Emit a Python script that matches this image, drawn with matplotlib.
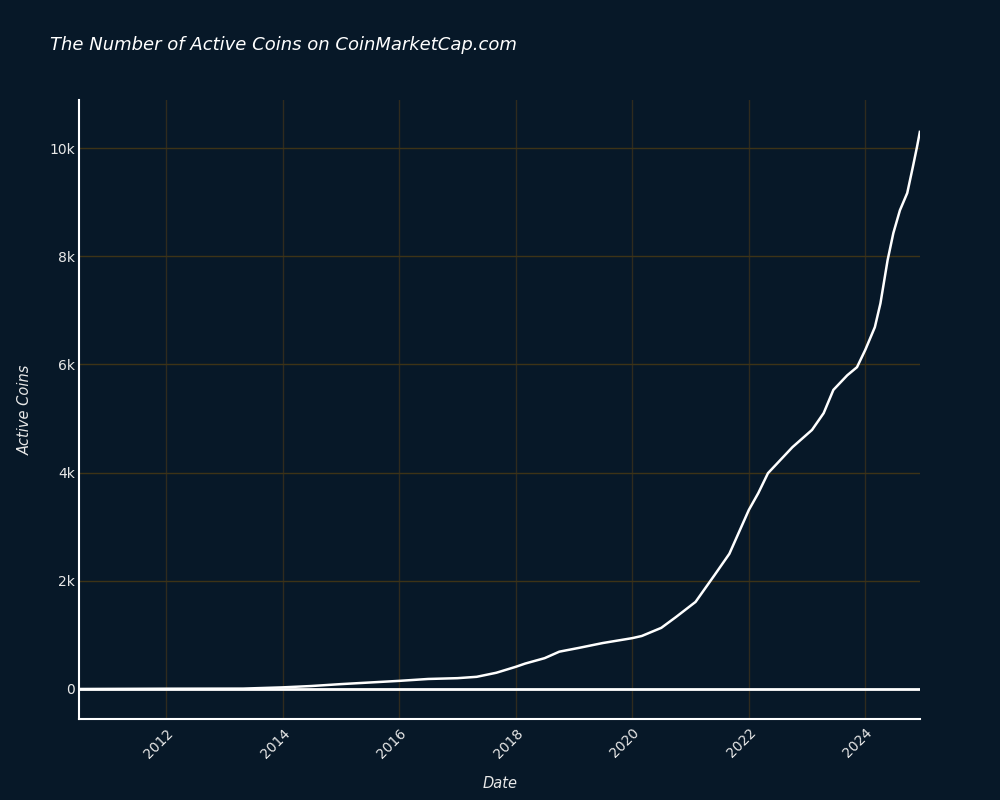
import matplotlib
matplotlib.use('Agg')
import matplotlib.pyplot as plt
import matplotlib.dates as mdates
import matplotlib.ticker as mticker
import pandas as pd

# data
dates = [
    '2010-07-05', '2012-01-01', '2013-04-28', '2014-01-01', '2014-07-01',
    '2015-01-01', '2015-07-01', '2016-01-01', '2016-07-01', '2017-01-01',
    '2017-05-01', '2017-09-01', '2018-01-01', '2018-03-01', '2018-07-01',
    '2018-10-01', '2019-02-01', '2019-07-01', '2020-01-01', '2020-03-01',
    '2020-07-01', '2020-10-01', '2021-02-01', '2021-06-01', '2021-09-01',
    '2022-01-01', '2022-03-01', '2022-05-01', '2022-10-01', '2023-02-01',
    '2023-04-15', '2023-06-15', '2023-09-10', '2023-11-10', '2024-01-01',
    '2024-03-01', '2024-04-05', '2024-05-20', '2024-06-25', '2024-08-05',
    '2024-09-20', '2024-10-25', '2024-11-20', '2024-12-08',
]
active_coins = [
    0, 5, 7, 30, 55,
    90, 120, 150, 185, 200,
    225, 300, 410, 470, 570,
    690, 760, 850, 940, 980,
    1130, 1330, 1610, 2110, 2500,
    3310, 3620, 3990, 4470, 4790,
    5100, 5530, 5800, 5950, 6270,
    6690, 7130, 7930, 8430, 8850,
    9170, 9650, 10020, 10300,
]
year_ticks = ['2012', '2014', '2016', '2018', '2020', '2022', '2024']
y_ticks = [0, 2000, 4000, 6000, 8000, 10000]

BG = '#071828'
TXT = '#e8e8e8'

x = pd.to_datetime(dates)

fig = plt.figure(figsize=(10, 8), dpi=100, facecolor=BG)
ax = fig.add_axes([0.079, 0.10125, 0.841, 0.77375], facecolor=BG)

ax.plot(x, active_coins, color='white', linewidth=1.8, zorder=3)
ax.axhline(0, color='white', linewidth=2, zorder=2)

ax.set_xlim(pd.Timestamp('2010-07-04'), pd.Timestamp('2024-12-09'))
ax.set_ylim(-555, 10890)

ax.set_xticks(pd.to_datetime([f'{y}-01-01' for y in year_ticks]))
ax.xaxis.set_major_formatter(mdates.DateFormatter('%Y'))
ax.set_yticks(y_ticks)
ax.yaxis.set_major_formatter(mticker.FuncFormatter(
    lambda v, _: '0' if v == 0 else f'{v/1000:.0f}k'))

ax.xaxis.grid(True, color='#2f2b1e', linewidth=1)
ax.yaxis.grid(True, color='#3d3317', linewidth=1)
ax.set_axisbelow(True)

for side in ['top', 'right']:
    ax.spines[side].set_visible(False)
for side in ['left', 'bottom']:
    ax.spines[side].set_color('white')
    ax.spines[side].set_linewidth(1.5)

ax.tick_params(axis='both', length=0, colors=TXT, labelsize=10)
ax.tick_params(axis='y', pad=3)
ax.tick_params(axis='x', pad=5)
for lab in ax.get_xticklabels():
    lab.set_rotation(45)
    lab.set_ha('right')
    lab.set_rotation_mode('anchor')

fig.text(0.5, 0.021, 'Date', color=TXT, fontsize=10.5, fontstyle='italic',
         ha='center', va='center')
fig.text(0.025, 0.4875, 'Active Coins', color=TXT, fontsize=10.5,
         fontstyle='italic', rotation=90, ha='center', va='center')

fig.text(0.05, 0.944, 'The Number of Active Coins on CoinMarketCap.com',
         color='white', fontsize=13, fontstyle='italic', va='center', ha='left')

fig.savefig('out.png', dpi=100, facecolor=BG)
